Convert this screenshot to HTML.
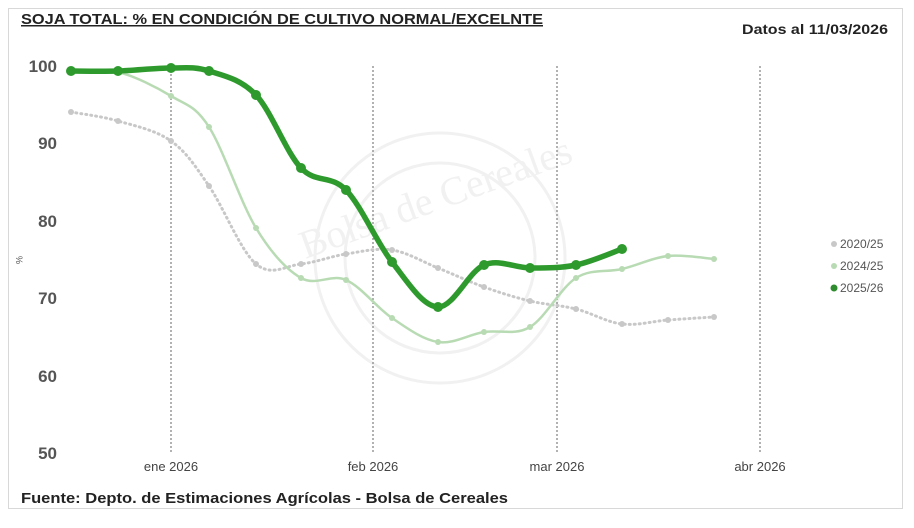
<!DOCTYPE html>
<html><head><meta charset="utf-8"><style>
body{margin:0;background:#fff;width:914px;height:523px;overflow:hidden;font-family:"Liberation Sans",sans-serif}
</style></head><body>
<svg id="s" width="914" height="523" xmlns="http://www.w3.org/2000/svg" font-family="Liberation Sans, sans-serif">
<rect x="8.5" y="8.5" width="894" height="500" fill="#fff" stroke="#d8d8d8"/>
<text x="21" y="24" font-size="15" font-weight="bold" fill="#222" text-decoration="underline" textLength="522" lengthAdjust="spacingAndGlyphs">SOJA TOTAL: % EN CONDICIÓN DE CULTIVO NORMAL/EXCELNTE</text>
<text x="742" y="34" font-size="14" font-weight="bold" fill="#222" textLength="146" lengthAdjust="spacingAndGlyphs">Datos al 11/03/2026</text>
<g fill="none" stroke="#f1f1f1" stroke-width="3">
<circle cx="440" cy="258" r="125"/><circle cx="440" cy="258" r="95"/>
</g>
<text x="440" y="210" font-family="Liberation Serif, serif" font-size="40" fill="#f1f1f1" text-anchor="middle" transform="rotate(-20 440 210)">Bolsa de Cereales</text>
<g stroke="#666" stroke-width="1" stroke-dasharray="2,2">
<line x1="171" y1="66" x2="171" y2="453"/><line x1="373" y1="66" x2="373" y2="453"/>
<line x1="557" y1="66" x2="557" y2="453"/><line x1="760" y1="66" x2="760" y2="453"/>
</g>
<g font-size="17" font-weight="bold" fill="#555" text-anchor="end">
<text x="57" y="72">100</text><text x="57" y="149">90</text><text x="57" y="227">80</text>
<text x="57" y="304">70</text><text x="57" y="382">60</text><text x="57" y="459">50</text>
</g>
<text x="16" y="260" font-size="9" fill="#555" transform="rotate(90 16 260)" text-anchor="middle">%</text>
<g font-size="13" fill="#444" text-anchor="middle">
<text x="171" y="471">ene 2026</text><text x="373" y="471">feb 2026</text>
<text x="557" y="471">mar 2026</text><text x="760" y="471">abr 2026</text>
</g>
<text x="21" y="503" font-size="15" font-weight="bold" fill="#222" textLength="487" lengthAdjust="spacingAndGlyphs">Fuente: Depto. de Estimaciones Agrícolas - Bolsa de Cereales</text>
<g font-size="12" fill="#555">
<circle cx="834" cy="244" r="3" fill="#c8c8c8"/><text x="840" y="248">2020/25</text>
<circle cx="834" cy="266" r="3" fill="#b8dbb4"/><text x="840" y="270">2024/25</text>
<circle cx="834" cy="288" r="3.5" fill="#2e8b2e"/><text x="840" y="292">2025/26</text>
</g>
<g id="series"></g>
</svg>
<script>
function path(p){let d="M"+p[0][0]+","+p[0][1];for(let i=0;i<p.length-1;i++){const a=p[i-1]||p[i],b=p[i],c=p[i+1],e=p[i+2]||c;const t=6;d+=" C"+(b[0]+(c[0]-a[0])/t)+","+(b[1]+(c[1]-a[1])/t)+" "+(c[0]-(e[0]-b[0])/t)+","+(c[1]-(e[1]-b[1])/t)+" "+c[0]+","+c[1];}return d;}
const g=document.getElementById("series");
const gray=[[71,112],[118,121],[171,141],[209,186],[256,264],[301,264],[346,254],[392,250],[438,268],[484,287],[530,301],[576,309],[622,324],[668,320],[714,317]];
const lg=[[71,71],[118,72],[171,96],[209,127],[256,228],[301,278],[346,280],[392,318],[438,342],[484,332],[530,327],[576,278],[622,269],[668,256],[714,259]];
const dg=[[71,71],[118,71],[171,68],[209,71],[256,95],[301,168],[346,190],[392,262],[438,307],[484,265],[530,268],[576,265],[622,249]];
let h="";
h+='<path d="'+path(gray)+'" fill="none" stroke="#c8c8c8" stroke-width="3" stroke-dasharray="1,4" stroke-linecap="round"/>';
gray.forEach(p=>h+='<circle cx="'+p[0]+'" cy="'+p[1]+'" r="3" fill="#c8c8c8"/>');
h+='<path d="'+path(lg)+'" fill="none" stroke="#b8dbb4" stroke-width="2.5"/>';
lg.forEach(p=>h+='<circle cx="'+p[0]+'" cy="'+p[1]+'" r="3" fill="#b8dbb4"/>');
h+='<path d="'+path(dg)+'" fill="none" stroke="#2e9a2e" stroke-width="5.5"/>';
dg.forEach(p=>h+='<circle cx="'+p[0]+'" cy="'+p[1]+'" r="5" fill="#2e9a2e"/>');
g.innerHTML=h;
</script>
</body></html>
